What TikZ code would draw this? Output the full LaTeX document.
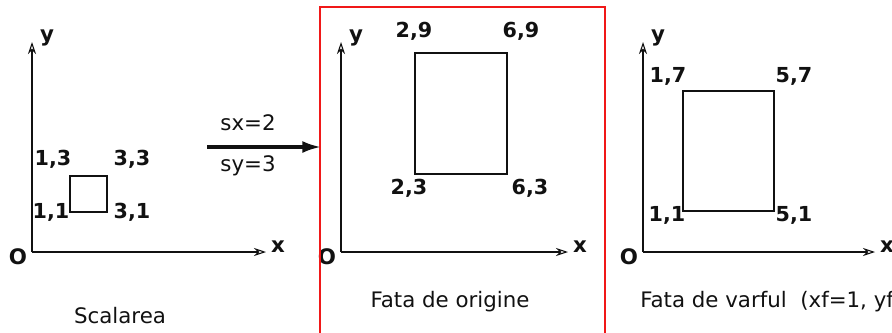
\documentclass[tikz,border=0pt]{standalone}
\usepackage{fontspec}
\setmainfont{DejaVu Sans}
\usetikzlibrary{arrows.meta,positioning}
\definecolor{FrameRed}{HTML}{F01818}
\definecolor{InkBlack}{HTML}{111111}

\begin{document}
\begin{tikzpicture}[x=0.75pt,y=-0.75pt,>=Latex,
  axis/.style={-{Stealth[open,length=9pt,width=6pt]},line width=0.8pt,InkBlack},
  figbox/.style={draw=InkBlack,line width=0.8pt},
  corner/.style={font=\bfseries\fontsize{15.5}{16}\selectfont,inner sep=0pt,text=InkBlack},
  axlabel/.style={font=\bfseries\fontsize{16}{16}\selectfont,inner sep=0pt,text=InkBlack},
  factor/.style={font=\fontsize{16}{16}\selectfont,inner sep=0pt,text=InkBlack},
  caption/.style={font=\fontsize{16}{16}\selectfont,inner sep=0pt,text=InkBlack},
  every node/.style={font=\small}]
  \useasboundingbox (0,0) rectangle (892,332);
  % one coordinate system per panel
  \foreach \p/\ox/\xl in {a/32/234,b/341/227,c/643/232}{
    \coordinate (o\p) at (\ox,252);
    \coordinate (y\p) at (\ox,42);
    \coordinate (x\p) at (\ox+\xl,252);
    \draw[axis] (o\p) -- (y\p);
    \draw[axis] (o\p) -- (x\p);
    \node[axlabel] (ly\p) at (\ox+15,38) {y};
    \node[axlabel] (lx\p) at (\ox+\xl+12,247) {x};
    \node[axlabel] (lo\p) at (\ox-14,257) {O};
  }
  % initial square
  \coordinate (a11) at (70,212);
  \coordinate (a33) at (107,176);
  \draw[figbox] (a11) rectangle (a33);
  \node[corner] (la13) at (53,159) {1,3};
  \node[corner] (la33) at (132,159) {3,3};
  \node[corner] (la11) at (51,212) {1,1};
  \node[corner] (la31) at (132,212) {3,1};
  \node[caption] (capa) at (120,316) {Scalarea};
  % scaling factors
  \draw[FrameRed,line width=1pt] (320,345) -- (320,7) -- (605,7) -- (605,345);
  \coordinate (arrowstart) at (207,147);
  \coordinate (arrowend) at (321,147);
  \draw[-{Latex[length=14pt,width=9pt]},line width=2.4pt,InkBlack] (arrowstart) -- (arrowend);
  \node[factor] (sx) at (248,123) {sx=2};
  \node[factor] (sy) at (248,166) {sy=3};
  % scaled about the origin
  \coordinate (b23) at (415,174);
  \coordinate (b69) at (507,53);
  \draw[figbox] (b23) rectangle (b69);
  \node[corner] (lb29) at (414,31) {2,9};
  \node[corner] (lb69) at (521,31) {6,9};
  \node[corner] (lb23) at (409,188) {2,3};
  \node[corner] (lb63) at (530,188) {6,3};
  \node[caption] (capb) at (450,302) {Fata de origine};
  % scaled about the fixed vertex
  \coordinate (c11) at (683,211);
  \coordinate (c57) at (774,91);
  \draw[figbox] (c11) rectangle (c57);
  \node[corner] (lc17) at (668,76) {1,7};
  \node[corner] (lc57) at (794,76) {5,7};
  \node[corner] (lc11) at (667,215) {1,1};
  \node[corner] (lc51) at (794,215) {5,1};
  \node[caption,anchor=west] (capc) at (640,302) {Fata de varful\ \ (xf=1, yf=};
\end{tikzpicture}
\end{document}
